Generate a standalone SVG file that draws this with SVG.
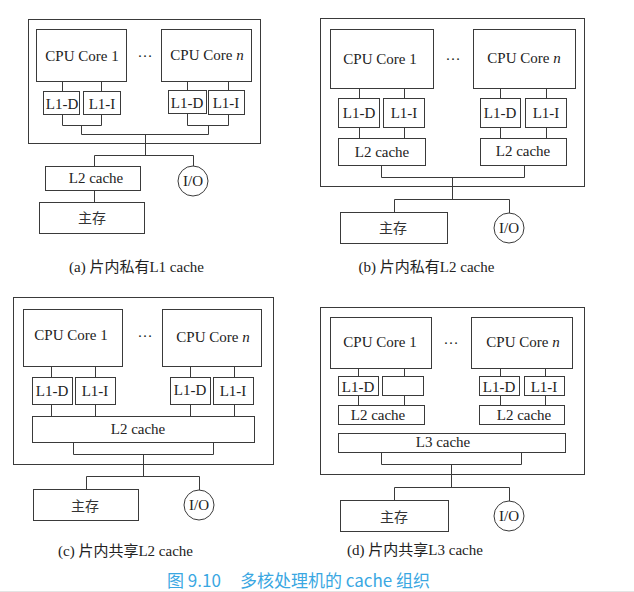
<svg xmlns="http://www.w3.org/2000/svg" width="634" height="592" viewBox="0 0 634 592">
<style>
.b{fill:#fff;stroke:#3a3a3a;stroke-width:1}
.c{fill:none;stroke:#3a3a3a;stroke-width:1}
.t{font-family:"Liberation Serif","Noto Sans CJK SC",serif;font-size:15px;fill:#222;text-anchor:middle}
.z{font-family:"Noto Sans CJK SC",sans-serif;font-size:14px;fill:#333;text-anchor:middle}
.cap{font-family:"Liberation Serif","Noto Sans CJK SC",serif;font-size:15px;fill:#222;text-anchor:middle}
.ttl{font-family:"Noto Sans CJK SC",sans-serif;font-size:17px;fill:#3aa7e2}
</style>
<rect width="634" height="592" fill="#fff"/>

<!-- Panel (a) -->
<g id="panel-a">
<rect id="a-chip" class="b" x="28.5" y="19.5" width="232" height="124"/>
<g id="a-core1"><rect class="b" x="36.5" y="29.5" width="90" height="52"/><text class="t" x="82" y="61">CPU Core 1</text></g>
<text class="t" x="145" y="57">…</text>
<g id="a-coren"><rect class="b" x="161.5" y="29.5" width="90" height="52"/><text class="t" x="207" y="60">CPU Core <tspan font-style="italic">n</tspan></text></g>
<g id="a-l1d1"><rect class="b" x="43.5" y="91.5" width="36" height="23"/><text class="t" x="62" y="109">L1-D</text></g>
<g id="a-l1i1"><rect class="b" x="83.5" y="91.5" width="37" height="23"/><text class="t" x="102" y="109">L1-I</text></g>
<g id="a-l1dn"><rect class="b" x="168.5" y="90.5" width="38" height="23"/><text class="t" x="187" y="108">L1-D</text></g>
<g id="a-l1in"><rect class="b" x="208.5" y="90.5" width="36" height="24"/><text class="t" x="226" y="108">L1-I</text></g>
<g id="a-l2"><rect class="b" x="45.5" y="166.5" width="95" height="24"/><text class="t" x="96" y="183">L2 cache</text></g>
<g id="a-io"><circle class="b" cx="193" cy="181" r="15"/><text class="t" x="193" y="186">I/O</text></g>
<g id="a-mem"><rect class="b" x="39.5" y="202.5" width="105" height="31"/><text class="z" x="92" y="223">主存</text></g>
<text class="cap" x="136.5" y="272">(a) 片内私有L1 cache</text>
</g>

<!-- Panel (b) -->
<g id="panel-b">
<rect id="b-chip" class="b" x="320.5" y="18.5" width="264" height="168"/>
<g id="b-core1"><rect class="b" x="330.5" y="29.5" width="103" height="59"/><text class="t" x="380" y="64">CPU Core 1</text></g>
<text class="t" x="453" y="60">…</text>
<g id="b-coren"><rect class="b" x="473.5" y="29.5" width="102" height="59"/><text class="t" x="524" y="63">CPU Core <tspan font-style="italic">n</tspan></text></g>
<g id="b-l1d1"><rect class="b" x="338.5" y="98.5" width="41" height="29"/><text class="t" x="359" y="118">L1-D</text></g>
<g id="b-l1i1"><rect class="b" x="383.5" y="98.5" width="41" height="29"/><text class="t" x="404" y="118">L1-I</text></g>
<g id="b-l2a"><rect class="b" x="338.5" y="138.5" width="87" height="27"/><text class="t" x="382" y="157">L2 cache</text></g>
<g id="b-l1dn"><rect class="b" x="480.5" y="98.5" width="40" height="29"/><text class="t" x="500" y="118">L1-D</text></g>
<g id="b-l1in"><rect class="b" x="525.5" y="98.5" width="41" height="29"/><text class="t" x="546" y="118">L1-I</text></g>
<g id="b-l2n"><rect class="b" x="480.5" y="138.5" width="86" height="27"/><text class="t" x="523" y="156">L2 cache</text></g>
<g id="b-mem"><rect class="b" x="340.5" y="212.5" width="107" height="31"/><text class="z" x="393" y="233">主存</text></g>
<g id="b-io"><circle class="b" cx="509" cy="228" r="15"/><text class="t" x="509" y="233">I/O</text></g>
<text class="cap" x="426.5" y="272">(b) 片内私有L2 cache</text>
</g>

<!-- Panel (c) -->
<g id="panel-c">
<rect id="c-chip" class="b" x="13.5" y="297.5" width="260" height="167"/>
<g id="c-core1"><rect class="b" x="23.5" y="309.5" width="99" height="57"/><text class="t" x="71" y="340">CPU Core 1</text></g>
<text class="t" x="145" y="337">…</text>
<g id="c-coren"><rect class="b" x="162.5" y="309.5" width="99" height="57"/><text class="t" x="213" y="342">CPU Core <tspan font-style="italic">n</tspan></text></g>
<g id="c-l1d1"><rect class="b" x="32.5" y="377.5" width="40" height="27"/><text class="t" x="52" y="396">L1-D</text></g>
<g id="c-l1i1"><rect class="b" x="75.5" y="377.5" width="40" height="27"/><text class="t" x="95" y="396">L1-I</text></g>
<g id="c-l1dn"><rect class="b" x="170.5" y="377.5" width="40" height="27"/><text class="t" x="190" y="395">L1-D</text></g>
<g id="c-l1in"><rect class="b" x="213.5" y="377.5" width="40" height="27"/><text class="t" x="233" y="396">L1-I</text></g>
<g id="c-l2"><rect class="b" x="32.5" y="416.5" width="222" height="26"/><text class="t" x="138" y="434">L2 cache</text></g>
<g id="c-mem"><rect class="b" x="33.5" y="489.5" width="105" height="31"/><text class="z" x="85" y="511">主存</text></g>
<g id="c-io"><circle class="b" cx="199" cy="505" r="15"/><text class="t" x="199" y="510">I/O</text></g>
<text class="cap" x="125.5" y="556">(c) 片内共享L2 cache</text>
</g>

<!-- Panel (d) -->
<g id="panel-d">
<rect id="d-chip" class="b" x="320.5" y="307.5" width="264" height="167"/>
<g id="d-core1"><rect class="b" x="330.5" y="317.5" width="101" height="51"/><text class="t" x="380" y="347">CPU Core 1</text></g>
<text class="t" x="451" y="344">…</text>
<g id="d-coren"><rect class="b" x="471.5" y="317.5" width="101" height="51"/><text class="t" x="523" y="347">CPU Core <tspan font-style="italic">n</tspan></text></g>
<g id="d-l1d1"><rect class="b" x="338.5" y="376.5" width="40" height="19"/><text class="t" x="358" y="392">L1-D</text></g>
<g id="d-l1x1"><rect class="b" x="382.5" y="376.5" width="41" height="19"/></g>
<g id="d-l2a"><rect class="b" x="338.5" y="405.5" width="86" height="19"/><text class="t" x="378" y="420">L2 cache</text></g>
<g id="d-l1dn"><rect class="b" x="479.5" y="376.5" width="40" height="19"/><text class="t" x="499" y="392">L1-D</text></g>
<g id="d-l1in"><rect class="b" x="524.5" y="376.5" width="40" height="19"/><text class="t" x="544" y="392">L1-I</text></g>
<g id="d-l2n"><rect class="b" x="479.5" y="405.5" width="85" height="19"/><text class="t" x="524" y="420">L2 cache</text></g>
<g id="d-l3"><rect class="b" x="338.5" y="433.5" width="227" height="19"/><text class="t" x="443" y="447">L3 cache</text></g>
<g id="d-mem"><rect class="b" x="340.5" y="500.5" width="108" height="31"/><text class="z" x="394" y="522">主存</text></g>
<g id="d-io"><circle class="b" cx="509" cy="516" r="15"/><text class="t" x="509" y="521">I/O</text></g>
<text class="cap" x="415" y="555">(d) 片内共享L3 cache</text>
</g>

<!-- Connectors -->
<g id="connectors" class="c">
<path d="M62.5 81.5V91.5M101.5 81.5V91.5M187.5 81.5V90.5M228.5 81.5V90.5"/>
<path d="M62.5 114.5V125.5H101.5V114.5M187.5 113.5V125.5H228.5V114.5"/>
<path d="M81.5 125.5V134.5H208.5V125.5M145.5 134.5V155.5M94.5 166.5V155.5H193.5V166M94.5 190.5V202.5"/>

<path d="M359.5 88.5V98.5M404.5 88.5V98.5M500.5 88.5V98.5M546.5 88.5V98.5"/>
<path d="M359.5 127.5V138.5M404.5 127.5V138.5M500.5 127.5V138.5M546.5 127.5V138.5"/>
<path d="M381.5 165.5V177.5H524.5V165.5M452.5 177.5V199.5M394.5 212.5V199.5H509.5V213"/>

<path d="M51.5 366.5V377.5M95.5 366.5V377.5M190.5 366.5V377.5M234.5 366.5V377.5"/>
<path d="M51.5 404.5V416.5M95.5 404.5V416.5M190.5 404.5V416.5M234.5 404.5V416.5"/>
<path d="M73.5 442.5V454.5H213.5V442.5M143.5 454.5V476.5M86.5 489.5V476.5H199.5V490"/>

<path d="M358.5 368.5V376.5M404.5 368.5V376.5M500.5 368.5V376.5M545.5 368.5V376.5"/>
<path d="M358.5 395.5V405.5M404.5 395.5V405.5M500.5 395.5V405.5M545.5 395.5V405.5"/>
<path d="M381.5 452.5V464.5H521.5V452.5M451.5 464.5V487.5M394.5 500.5V487.5H509.5V501"/>
</g>

<!-- Figure title -->
<g id="title">
<text class="ttl" x="167" y="587">图 9.10</text>
<text class="ttl" x="240" y="587">多核处理机的 cache 组织</text>
<line x1="0" y1="591.5" x2="634" y2="591.5" stroke="#e4e4e4" stroke-width="1"/>
</g>
</svg>
